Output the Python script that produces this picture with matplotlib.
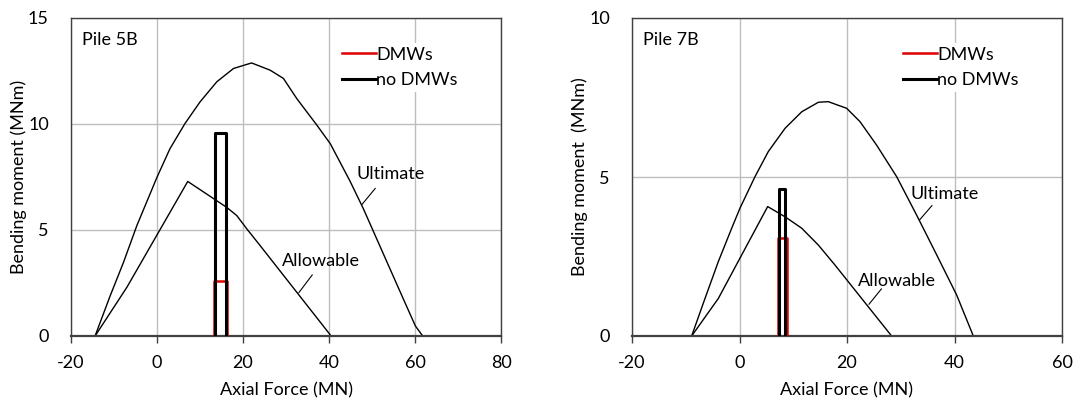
import matplotlib.pyplot as plt
import numpy as np

plt.rcParams['font.family'] = ['Lato', 'DejaVu Sans']
plt.rcParams['axes.unicode_minus'] = False

# Pile 5B
ult5_n = [-14.4, -10.9, -7.8, -4.7, 0.0, 3.0, 6.5, 10.0, 13.9, 17.8, 22.0,
          26.3, 29.4, 32.5, 37.2, 40.3, 44.9, 48.0, 51.1, 54.2, 57.3, 60.1, 61.8]
ult5_m = [0, 1.89, 3.47, 5.2, 7.49, 8.83, 10.02, 11.04, 11.99, 12.62, 12.88,
          12.54, 12.15, 11.2, 9.94, 9.07, 7.3, 6.0, 4.58, 3.16, 1.74, 0.47, 0]
all5_n = [-14.4, -7.0, 7.15, 16.2, 18.55, 20.9, 24.0, 40.5]
all5_m = [0, 2.3, 7.29, 6.07, 5.68, 5.05, 4.26, 0]
dmw5_n = [13.3, 16.2]
dmw5_m = 2.6
nodmw5_n = [13.5, 16.0]
nodmw5_m = 9.57

# Pile 7B
ult7_n = [-8.9, -6.42, -3.94, -1.45, 0.09, 2.88, 5.36, 8.47, 11.57, 14.67, 16.5,
          19.94, 22.42, 25.52, 29.24, 32.96, 36.69, 40.4, 43.5]
ult7_m = [0, 1.18, 2.34, 3.39, 4.02, 5.01, 5.8, 6.53, 7.05, 7.35, 7.37,
          7.16, 6.74, 6.0, 5.01, 3.8, 2.55, 1.29, 0]
all7_n = [-8.9, -3.94, 5.24, 8.47, 11.57, 14.67, 17.77, 28.3]
all7_m = [0, 1.18, 4.07, 3.75, 3.39, 2.86, 2.23, 0]
dmw7_n = [7.16, 8.78]
dmw7_m = 3.09
nodmw7_n = [7.4, 8.47]
nodmw7_m = 4.62

fig = plt.figure(figsize=(10.76, 4.0), dpi=100)
ax1 = fig.add_axes([71 / 1076, 0.16, 430 / 1076, 0.795])
ax2 = fig.add_axes([632 / 1076, 0.16, 430 / 1076, 0.795])

FS = 13


def box(n, m):
    return [n[0], n[0], n[1], n[1]], [0, m, m, 0]


def draw(ax, un, um, an, am, dn, dm, nn, nm, xlim, ylim, yt, name, ylab,
         ult_txt, ult_ln, all_txt, all_ln):
    ax.plot(un, um, color='black', lw=1.0)
    ax.plot(an, am, color='black', lw=1.0)
    bx, by = box(dn, dm)
    ax.plot(bx, by, color='#e00000', lw=1.8, label='DMWs', zorder=3)
    bx, by = box(nn, nm)
    ax.plot(bx, by, color='black', lw=2.2, label='no DMWs', zorder=4)
    ax.set_xlim(xlim)
    ax.set_ylim(ylim)
    ax.set_xticks(np.arange(xlim[0], xlim[1] + 1, 20))
    ax.set_yticks(yt)
    ax.grid(True, color='#bdbdbd', lw=1.0)
    ax.set_axisbelow(True)
    for s in ax.spines.values():
        s.set_color('#404040')
        s.set_linewidth(1.0)
    ax.spines['bottom'].set_linewidth(1.6)
    ax.tick_params(axis='x', direction='out', length=5, width=1, color='#404040',
                   labelsize=FS, pad=9)
    ax.tick_params(axis='y', length=0, labelsize=FS, pad=16)
    ax.set_xlabel('Axial Force (MN)', fontsize=FS, labelpad=8)
    ax.set_ylabel(ylab, fontsize=FS, labelpad=1)
    ax.text(0.025, 0.93, name, transform=ax.transAxes, fontsize=FS, va='center')
    leg = ax.legend(loc='upper left', bbox_to_anchor=(0.6, 0.95), frameon=True,
                    fontsize=FS, handlelength=1.9, handletextpad=0.0,
                    labelspacing=0.55, borderpad=0.2)
    leg.get_frame().set_edgecolor('none')
    leg.get_frame().set_facecolor('white')
    leg.get_frame().set_alpha(1)
    ax.text(ult_txt[0], ult_txt[1], 'Ultimate', fontsize=FS, va='center', ha='left')
    ax.plot([ult_ln[0][0], ult_ln[1][0]], [ult_ln[0][1], ult_ln[1][1]],
            color='black', lw=0.8)
    ax.text(all_txt[0], all_txt[1], 'Allowable', fontsize=FS, va='center', ha='left')
    ax.plot([all_ln[0][0], all_ln[1][0]], [all_ln[0][1], all_ln[1][1]],
            color='black', lw=0.8)


draw(ax1, ult5_n, ult5_m, all5_n, all5_m, dmw5_n, dmw5_m, nodmw5_n, nodmw5_m,
     (-20, 80), (0, 15), [0, 5, 10, 15], 'Pile 5B', 'Bending moment (MNm)',
     (46.5, 7.65), [(50.75, 6.96), (47.65, 6.2)],
     (29.0, 3.56), [(36.1, 2.88), (33.0, 2.05)])
draw(ax2, ult7_n, ult7_m, all7_n, all7_m, dmw7_n, dmw7_m, nodmw7_n, nodmw7_m,
     (-20, 60), (0, 10), [0, 5, 10], 'Pile 7B', 'Bending moment  (MNm)',
     (31.8, 4.47), [(35.8, 4.1), (33.5, 3.65)],
     (22.0, 1.72), [(26.4, 1.48), (24.1, 1.0)])

fig.savefig('out.png', dpi=100)
